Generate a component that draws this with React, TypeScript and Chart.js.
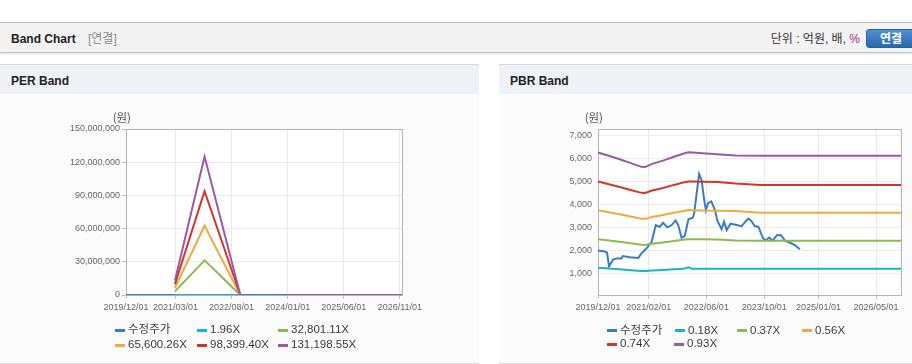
import React, { useEffect, useRef } from 'react';
import { Chart, registerables } from 'chart.js';

Chart.register(...registerables);

// ---------------- data ----------------
const PER_LABELS = ['수정주가', '1.96X', '32,801.11X', '65,600.26X', '98,399.40X', '131,198.55X'];
const PBR_LABELS = ['수정주가', '0.18X', '0.37X', '0.56X', '0.74X', '0.93X'];
const SERIES_COLORS = ['#3a7bc9', '#1db3c6', '#8cba50', '#f2a93b', '#d3352b', '#9a58a5'];

const PRICE_DATES = [
  '2019/12/01', '2020/01/26', '2020/02/15', '2020/03/03', '2020/04/06', '2020/05/04', '2020/06/15', '2020/06/28',
  '2020/08/25', '2020/11/04', '2020/12/01', '2021/01/13', '2021/02/25', '2021/04/01', '2021/05/04', '2021/06/01',
  '2021/07/07', '2021/08/13', '2021/09/15', '2021/10/07', '2021/11/04', '2021/12/01', '2022/01/01', '2022/02/07',
  '2022/02/18', '2022/04/01', '2022/04/22', '2022/05/10', '2022/05/28', '2022/06/15', '2022/07/13', '2022/08/13',
  '2022/09/01', '2022/10/07', '2022/10/28', '2022/11/19', '2022/12/22', '2023/02/13', '2023/03/25', '2023/05/19',
  '2023/06/15', '2023/07/13', '2023/08/13', '2023/09/22', '2023/10/15', '2023/11/13', '2023/12/10', '2024/01/19',
  '2024/02/19', '2024/03/25', '2024/05/07', '2024/06/15', '2024/07/28',
];
const PRICE_VALUES = [
  2000, 1950, 1900, 1300, 1600, 1650, 1650, 1750, 1700, 1670, 1870, 2090, 2370, 3100, 3020, 3200,
  3000, 3100, 3300, 3100, 2550, 2620, 3350, 3420, 3600, 5320, 5050, 4330, 3750, 4050, 4130, 3750,
  3300, 2920, 3250, 2880, 3160, 3100, 3050, 3380, 3275, 3060, 3030, 2520, 2440, 2560, 2420, 2670,
  2660, 2420, 2330, 2230, 2050,
];

// PER band
const PER_BAND_DATES = ['2021/02/25', '2021/11/25', '2022/10/19', '2023/06/01', '2024/01/01', '2026/11/21'];
const PER_BAND_1 = [196, 1868, 10, null, 0, 0];
const PER_BAND_2 = [3280000, 31260000, 160000, null, 0, 0];
const PER_BAND_3 = [6560000, 62520000, 330000, null, 0, 0];
const PER_BAND_4 = [9840000, 93780000, 490000, null, 0, 0];
const PER_BAND_5 = [13120000, 125040000, 660000, null, 0, 0];
const PER_X_RANGE = ['2019/12/01', '2026/11/21'];
const PER_X_TICKS = ['2019/12/01', '2021/03/01', '2022/08/01', '2024/01/01', '2025/06/01', '2026/11/01'];
const PER_Y_RANGE = [0, 150000000];
const PER_Y_TICKS = [0, 30000000, 60000000, 90000000, 120000000, 150000000];

// PBR band
const PBR_BAND_DATES = [
  '2019/12/01', '2020/03/01', '2020/06/01', '2020/09/01', '2020/12/01', '2021/01/01', '2021/03/01', '2021/06/01',
  '2021/09/01', '2021/12/01', '2022/01/01', '2022/02/01', '2022/05/01', '2022/09/01', '2023/02/01', '2023/09/01',
  '2026/11/27',
];
const PBR_BAND_1 = [1245, 1215, 1180, 1140, 1105, 1100, 1125, 1150, 1180, 1215, 1265, 1205, 1200, 1200, 1200, 1200, 1200];
const PBR_BAND_2 = [2480, 2430, 2370, 2305, 2240, 2235, 2290, 2345, 2410, 2470, 2485, 2485, 2480, 2475, 2430, 2420, 2420];
const PBR_BAND_3 = [3740, 3660, 3570, 3470, 3375, 3370, 3450, 3535, 3635, 3720, 3750, 3745, 3730, 3725, 3715, 3640, 3640];
const PBR_BAND_4 = [4990, 4870, 4750, 4620, 4500, 4495, 4600, 4710, 4845, 4965, 4995, 4995, 4985, 4975, 4910, 4845, 4845];
const PBR_BAND_5 = [6250, 6110, 5960, 5790, 5630, 5620, 5760, 5900, 6070, 6220, 6260, 6255, 6220, 6180, 6120, 6110, 6110];
const PBR_X_RANGE = ['2019/12/01', '2026/11/27'];
const PBR_X_TICKS = ['2019/12/01', '2021/02/01', '2022/06/01', '2023/10/01', '2025/01/01', '2026/05/01'];
const PBR_Y_RANGE = [60, 7275];
const PBR_Y_TICKS = [1000, 2000, 3000, 4000, 5000, 6000, 7000];

const UNIT_LABEL = '(원)';

// ---------------- helpers ----------------
const FONT = '"Liberation Sans", Arial, "Noto Sans CJK KR", sans-serif';
const ts = (s: string) => {
  const [y, m, d] = s.split('/').map(Number);
  return Date.UTC(y, m - 1, d);
};
const pts = (dates: string[], vals: (number | null)[]) => dates.map((d, i) => ({ x: ts(d), y: vals[i] }));

const framePlugin = {
  id: 'frame',
  beforeDatasetsDraw(chart: any) {
    const { ctx, chartArea } = chart;
    const { left, top, right, bottom } = chartArea;
    ctx.save();
    ctx.strokeStyle = '#b3b3b3';
    ctx.lineWidth = 1;
    ctx.strokeRect(Math.round(left) + 0.5, Math.round(top) + 0.5, Math.round(right - left), Math.round(bottom - top));
    ctx.restore();
  },
};

const bgPlugin = {
  id: 'plotBg',
  beforeDraw(chart: any) {
    const { ctx, chartArea } = chart;
    ctx.save();
    ctx.fillStyle = '#ffffff';
    ctx.fillRect(chartArea.left, chartArea.top, chartArea.right - chartArea.left, chartArea.bottom - chartArea.top);
    ctx.restore();
  },
};

const unitPlugin = {
  id: 'unitLabel',
  afterDraw(chart: any, _args: any, opts: any) {
    const { ctx, chartArea } = chart;
    ctx.save();
    ctx.font = '11.5px "Noto Sans CJK KR", "Liberation Sans", sans-serif';
    ctx.fillStyle = '#555';
    ctx.textAlign = 'right';
    ctx.textBaseline = 'middle';
    ctx.fillText(opts.text, chartArea.left + 5, chartArea.top - 11.5);
    ctx.restore();
  },
};

const gridLegendPlugin = {
  id: 'gridLegend',
  afterDraw(chart: any, _args: any, opts: any) {
    const { ctx } = chart;
    ctx.save();
    ctx.font = '11.5px ' + FONT;
    ctx.textBaseline = 'middle';
    ctx.textAlign = 'left';
    chart.data.datasets.forEach((ds: any, i: number) => {
      const p = opts.positions[i];
      if (!p) return;
      ctx.fillStyle = ds.borderColor;
      ctx.fillRect(p[0], Math.round(p[1]) - 1, 10, 3);
      ctx.fillStyle = '#3a3a3a';
      ctx.fillText(ds.label, p[0] + 13, p[1] + 0.5);
    });
    ctx.restore();
  },
};

function makeConfig(p: any) {
  const datasets = p.series.map((s: any, i: number) => ({
    label: p.labels[i],
    data: pts(s.dates, s.values),
    borderColor: SERIES_COLORS[i],
    backgroundColor: SERIES_COLORS[i],
    borderWidth: 2,
    pointRadius: 0,
    pointHoverRadius: 0,
    tension: 0,
    fill: false,
    spanGaps: false,
    order: p.series.length - i,
  }));
  return {
    type: 'line',
    data: { datasets },
    plugins: [bgPlugin, framePlugin, unitPlugin, gridLegendPlugin],
    options: {
      animation: false,
      responsive: false,
      maintainAspectRatio: false,
      events: [],
      layout: { padding: { top: p.padTop, right: p.padRight, bottom: 0, left: 0 } },
      plugins: {
        legend: { display: false },
        tooltip: { enabled: false },
        unitLabel: { text: UNIT_LABEL },
        gridLegend: { positions: p.legendPos },
      },
      scales: {
        x: {
          type: 'linear',
          min: ts(p.xRange[0]),
          max: ts(p.xRange[1]),
          afterBuildTicks: (s: any) => {
            s.ticks = p.xTicks.map((t: string) => ({ value: ts(t) }));
          },
          afterFit: (s: any) => {
            s.height = 67;
          },
          ticks: {
            autoSkip: false,
            maxRotation: 0,
            minRotation: 0,
            padding: 3,
            color: '#666',
            font: { family: FONT, size: 9 },
            callback: (_v: any, i: number) => p.xTicks[i],
          },
          grid: { color: '#e8e8e8', tickColor: '#c2c2c2', tickLength: 4, drawTicks: true },
          border: { display: false },
        },
        y: {
          type: 'linear',
          min: p.yRange[0],
          max: p.yRange[1],
          afterBuildTicks: (s: any) => {
            s.ticks = p.yTicks.map((v: number) => ({ value: v }));
          },
          afterFit: (s: any) => {
            s.width = p.yWidth;
          },
          ticks: {
            padding: p.yPad,
            color: '#666',
            font: { family: FONT, size: 9 },
            callback: (v: any) => Number(v).toLocaleString('en-US'),
          },
          grid: { color: '#ebebeb', tickColor: '#c2c2c2', tickLength: p.yTickLen, drawTicks: p.yTickLen > 0 },
          border: { display: false },
        },
      },
    },
  };
}

function ChartCanvas({ config, width, height, left, top }: any) {
  const ref = useRef<HTMLCanvasElement | null>(null);
  useEffect(() => {
    if (!ref.current) return;
    const chart = new Chart(ref.current, config);
    return () => chart.destroy();
  }, []);
  return (
    <canvas
      ref={ref}
      width={width}
      height={height}
      style={{ position: 'absolute', left, top, width, height, display: 'block' }}
    />
  );
}

const perConfig = makeConfig({
  labels: PER_LABELS,
  series: [
    { dates: PRICE_DATES, values: PRICE_VALUES },
    { dates: PER_BAND_DATES, values: PER_BAND_1 },
    { dates: PER_BAND_DATES, values: PER_BAND_2 },
    { dates: PER_BAND_DATES, values: PER_BAND_3 },
    { dates: PER_BAND_DATES, values: PER_BAND_4 },
    { dates: PER_BAND_DATES, values: PER_BAND_5 },
  ],
  xRange: PER_X_RANGE,
  xTicks: PER_X_TICKS,
  yRange: PER_Y_RANGE,
  yTicks: PER_Y_TICKS,
  yWidth: 126,
  yPad: 2,
  yTickLen: 4,
  padTop: 35,
  padRight: 77,
  legendPos: [
    [115, 235.5], [197, 235.5], [278, 235.5],
    [115, 250.5], [197, 250.5], [278, 250.5],
  ],
});

const pbrConfig = makeConfig({
  labels: PBR_LABELS,
  series: [
    { dates: PRICE_DATES, values: PRICE_VALUES },
    { dates: PBR_BAND_DATES, values: PBR_BAND_1 },
    { dates: PBR_BAND_DATES, values: PBR_BAND_2 },
    { dates: PBR_BAND_DATES, values: PBR_BAND_3 },
    { dates: PBR_BAND_DATES, values: PBR_BAND_4 },
    { dates: PBR_BAND_DATES, values: PBR_BAND_5 },
  ],
  xRange: PBR_X_RANGE,
  xTicks: PBR_X_TICKS,
  yRange: PBR_Y_RANGE,
  yTicks: PBR_Y_TICKS,
  yWidth: 99,
  yPad: 6,
  yTickLen: 0,
  padTop: 35,
  padRight: 11,
  legendPos: [
    [108, 236], [176, 236], [238, 236], [303, 236],
    [108, 249.5], [175, 249.5],
  ],
});

function Panel({ left, width, title, children }: any) {
  return (
    <div style={{ position: 'absolute', left, top: 64, width, height: 298, borderTop: '1px solid #d6d9de', borderBottom: '1px solid #dcdcdc', background: '#fbfbfc' }}>
      <div style={{ position: 'absolute', left: 0, top: 0, width, height: 29, background: '#eef1f5' }}>
        <span style={{ position: 'absolute', left: 11, top: 1, lineHeight: '30px', fontSize: 12, fontWeight: 'bold', color: '#222' }}>{title}</span>
      </div>
      {children}
    </div>
  );
}

export default function App() {
  return (
    <div style={{ position: 'absolute', left: 0, top: 0, width: 912, height: 364, overflow: 'hidden', background: '#fff', fontFamily: FONT }}>
      <div style={{ position: 'absolute', left: 0, top: 22, width: 912, height: 29, background: '#f3f3f3', borderTop: '1px solid #bcbcbc', borderBottom: '1px solid #c4c4c4', boxShadow: '0 1px 2px rgba(0,0,0,0.13)' }}>
        <span style={{ position: 'absolute', left: 11, top: 1, lineHeight: '30px', fontSize: 12, fontWeight: 'bold', color: '#222' }}>Band Chart</span>
        <span style={{ position: 'absolute', left: 88, top: 1, lineHeight: '30px', fontSize: 12, color: '#8a8a8a' }}>[연결]</span>
        <span style={{ position: 'absolute', right: 52, top: 1, lineHeight: '30px', fontSize: 12, color: '#333' }}>
          단위 : 억원, 배, <span style={{ color: '#a8326e' }}>%</span>
        </span>
        <div style={{ position: 'absolute', left: 866, top: 6, width: 50, height: 19, borderRadius: 3, background: 'linear-gradient(#4d90d2, #2b69ad)', border: '1px solid #2a62a0', color: '#fff', fontWeight: 'bold', fontSize: 12, lineHeight: '18px', textAlign: 'center', boxSizing: 'border-box' }}>
          연결
        </div>
      </div>
      <Panel left={0} width={479} title="PER Band" />
      <Panel left={499} width={413} title="PBR Band" />
      <ChartCanvas config={perConfig} width={479} height={268} left={0} top={94} />
      <ChartCanvas config={pbrConfig} width={413} height={268} left={499} top={94} />
    </div>
  );
}
